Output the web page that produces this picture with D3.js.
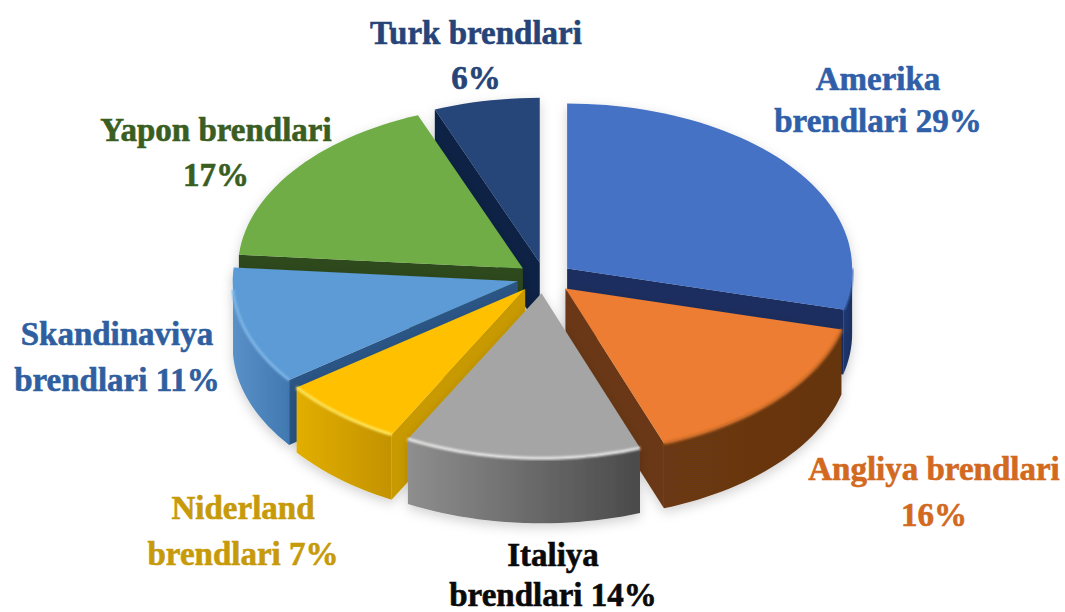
<!DOCTYPE html>
<html>
<head>
<meta charset="utf-8">
<script src="https://cdn.jsdelivr.net/npm/d3@7/dist/d3.min.js"></script>
<style>
  html, body { margin: 0; background: #fff; }
  svg { display: block; }
  text { font-family: "Liberation Serif", serif; font-weight: 700; font-size: 33px; text-anchor: middle; stroke-width: 0.6px; }
</style>
</head>
<body>
<svg id="chart" width="1065" height="612"></svg>
<script>
// Brand share by country of origin
const brands = ["Amerika", "Angliya", "Italiya", "Niderland", "Skandinaviya", "Yapon", "Turk"];
const shares = [29, 16, 14, 7, 11, 17, 6];

// Surface colours of each slice
const topColors  = ["#4472C4", "#ED7D31", "#A5A5A5", "#FFC000", "#5B9BD5", "#70AD47", "#264478"];
const cutColors  = ["#1B2F5E", "#6B3812", "#6B6B6B", "#C99A00", "#2C5585", "#2F4A1E", "#0E2145"];
const wallLeft   = ["#1F3A74", "#6B3812", "#8E8E8E", "#E2AE00", "#5A90C8", "#2F4A1E", "#0E2145"];
const wallRight  = ["#1B2F5E", "#653410", "#4A4A4A", "#C39200", "#4079B0", "#2F4A1E", "#0E2145"];
const bevelColors  = ["#4472C4", "#C96A28", "#E4E4E4", "#FFE45C", "#7DB4E6", "#70AD47", "#264478"];

// Outer labels, one array per line
const labelFirst  = ["Amerika", "Angliya brendlari", "Italiya", "Niderland", "Skandinaviya", "Yapon brendlari", "Turk brendlari"];
const labelSecond = ["brendlari 29%", "16%", "brendlari 14%", "brendlari 7%", "brendlari 11%", "17%", "6%"];
const labelColors = ["#2F5FA8", "#D2691E", "#0A0A0A", "#C79A0A", "#2F5FA0", "#3A5E22", "#264478"];
const labelX      = [878, 934, 553, 243, 117, 216, 476];
const labelY1     = [90, 480, 566, 519, 345, 141, 44];
const labelY2     = [132, 526, 606, 565, 391, 186, 89];

// Painter's order: far slices first
const drawOrder = [6, 0, 5, 4, 1, 3, 2];

// Pie geometry
const cx = 545, cy = 278, rx = 285, ry = 165, tilt = 0.55, explode = 28, depth = 65;

const arcs = d3.pie().sort(null).value(d => d)(shares);
const deg = Math.PI / 180;

// The camera bends the lower-left part of the disc slightly
function viewAngle(a) {
  const lo = 104 * deg, hi = 338 * deg;
  if (a <= lo || a >= hi) return a;
  const u = (a - lo) / (hi - lo);
  return a - 4.5 * deg * Math.sin(Math.PI * u) ** 2;
}

function project(i, angle, radius, drop) {
  const mid = (arcs[i].startAngle + arcs[i].endAngle) / 2;
  const v = viewAngle(angle);
  return [
    cx + explode * Math.sin(mid) + rx * radius * Math.sin(v),
    cy - explode * tilt * Math.cos(mid) - ry * radius * Math.cos(v) + drop
  ];
}

function sampleAngles(a, b) {
  const n = Math.max(2, Math.ceil((b - a) / (2 * deg)));
  return d3.range(n + 1).map(k => a + (b - a) * k / n);
}

const line = d3.line();
const svg = d3.select("#chart");
const defs = svg.append("defs");

const shadow = defs.append("filter").attr("id", "softShadow")
  .attr("x", "-10%").attr("y", "-10%").attr("width", "120%").attr("height", "125%");
shadow.append("feDropShadow").attr("dx", 0).attr("dy", 4).attr("stdDeviation", 6)
  .attr("flood-color", "#000").attr("flood-opacity", 0.18);
const soft = defs.append("filter").attr("id", "softEdge");
soft.append("feGaussianBlur").attr("stdDeviation", 1);

const pieGroup = svg.append("g");

drawOrder.forEach(i => {
  const { startAngle: a, endAngle: b } = arcs[i];
  const g = pieGroup.append("g").attr("filter", "url(#softShadow)");

  // Cut faces are seen only when they turn toward the viewer
  const cutFace = angle => line([
    project(i, angle, 0, 0), project(i, angle, 1, 0),
    project(i, angle, 1, depth), project(i, angle, 0, depth)
  ]) + "Z";
  if (Math.sin(a) < -0.01) g.append("path").attr("d", cutFace(a)).attr("fill", cutColors[i]);
  if (Math.sin(b) > 0.01) g.append("path").attr("d", cutFace(b)).attr("fill", cutColors[i]);

  // Outer rim, front half only
  const rimA = Math.max(a, 90 * deg), rimB = Math.min(b, 270 * deg);
  if (rimB > rimA) {
    const along = sampleAngles(rimA, rimB);
    const upper = along.map(t => project(i, t, 1, 0));
    const lower = along.map(t => project(i, t, 1, depth)).reverse();
    const gradId = "rim" + i;
    const xs = upper.map(p => p[0]);
    const grad = defs.append("linearGradient").attr("id", gradId)
      .attr("gradientUnits", "userSpaceOnUse")
      .attr("x1", d3.min(xs)).attr("x2", d3.max(xs)).attr("y1", 0).attr("y2", 0);
    grad.append("stop").attr("offset", 0).attr("stop-color", wallLeft[i]);
    grad.append("stop").attr("offset", 1).attr("stop-color", wallRight[i]);
    g.append("path").attr("d", line(upper.concat(lower)) + "Z").attr("fill", `url(#${gradId})`);
  }

  // Top surface
  const rim = sampleAngles(a, b).map(t => project(i, t, 1, 0));
  g.append("path")
    .attr("d", line([project(i, a, 0, 0), ...rim]) + "Z")
    .attr("fill", topColors[i]);

  // Bevel highlight along the front edge
  if (rimB > rimA) {
    const edge = sampleAngles(rimA, rimB).map(t => project(i, t, 1, 0));
    g.append("path").attr("d", line(edge)).attr("fill", "none")
      .attr("stroke", bevelColors[i])
      .attr("stroke-width", 3).attr("filter", "url(#softEdge)");
  }
});

// Labels
const labels = svg.append("g");
labelFirst.forEach((t, i) => {
  labels.append("text").attr("x", labelX[i]).attr("y", labelY1[i])
    .attr("fill", labelColors[i]).attr("stroke", labelColors[i]).text(t);
  labels.append("text").attr("x", labelX[i]).attr("y", labelY2[i])
    .attr("fill", labelColors[i]).attr("stroke", labelColors[i]).text(labelSecond[i]);
});
</script>
</body>
</html>
